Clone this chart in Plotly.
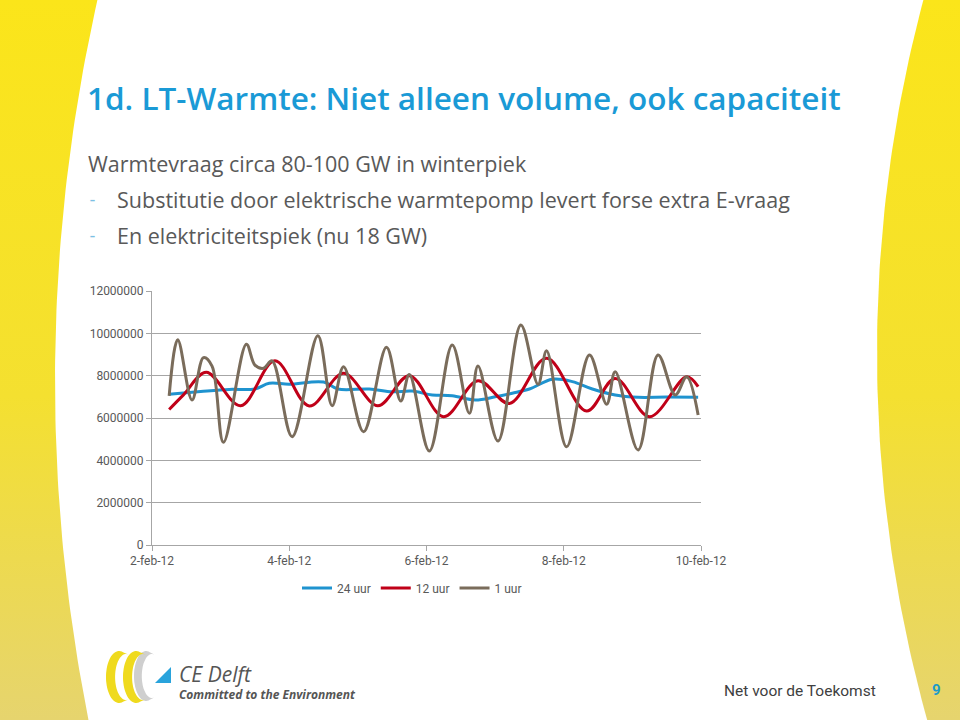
import numpy as np
import plotly.graph_objects as go

# ---------------- data ----------------
uur24_t = ["2012-02-02 06:00", "2012-02-02 17:00", "2012-02-03 03:00", "2012-02-03 12:00",
           "2012-02-03 17:00", "2012-02-04 00:00", "2012-02-04 12:00", "2012-02-04 17:00",
           "2012-02-05 04:00", "2012-02-05 12:00", "2012-02-05 19:00", "2012-02-06 02:00",
           "2012-02-06 09:00", "2012-02-06 17:00", "2012-02-07 00:00", "2012-02-07 06:00",
           "2012-02-07 12:00", "2012-02-07 20:00", "2012-02-08 03:00", "2012-02-08 10:00",
           "2012-02-08 18:00", "2012-02-09 02:00", "2012-02-09 12:00", "2012-02-09 23:00"]
uur24_v = [7120000, 7250000, 7350000, 7370000, 7640000, 7600000, 7700000, 7370000,
           7370000, 7240000, 7270000, 7090000, 7050000, 6850000, 7000000, 7170000,
           7370000, 7830000, 7720000, 7370000, 7090000, 6980000, 6990000, 6980000]

uur12_t = ["2012-02-02 06:00", "2012-02-02 11:00", "2012-02-02 19:00", "2012-02-03 07:00",
           "2012-02-03 19:00", "2012-02-04 07:00", "2012-02-04 19:00", "2012-02-05 07:00",
           "2012-02-05 18:00", "2012-02-06 06:00", "2012-02-06 18:00", "2012-02-07 05:00",
           "2012-02-07 18:00", "2012-02-08 08:00", "2012-02-08 18:00", "2012-02-09 06:00",
           "2012-02-09 19:00", "2012-02-09 23:00"]
uur12_v = [6400000, 7090000, 8160000, 6580000, 8700000, 6570000, 8110000, 6580000,
           8000000, 6060000, 7760000, 6690000, 8820000, 6330000, 7870000, 6060000,
           7950000, 7480000]

uur1_t = ["2012-02-02 06:00", "2012-02-02 09:00", "2012-02-02 14:00", "2012-02-02 18:00",
          "2012-02-02 21:00", "2012-02-03 01:00", "2012-02-03 09:00", "2012-02-03 12:00",
          "2012-02-03 15:00", "2012-02-03 18:00", "2012-02-04 01:00", "2012-02-04 10:00",
          "2012-02-04 15:00", "2012-02-04 19:00", "2012-02-05 02:00", "2012-02-05 10:00",
          "2012-02-05 15:00", "2012-02-05 18:00", "2012-02-06 01:00", "2012-02-06 09:00",
          "2012-02-06 15:00", "2012-02-06 18:00", "2012-02-07 01:00", "2012-02-07 09:00",
          "2012-02-07 15:00", "2012-02-07 18:00", "2012-02-08 01:00", "2012-02-08 09:00",
          "2012-02-08 15:00", "2012-02-08 18:00", "2012-02-09 02:00", "2012-02-09 09:00",
          "2012-02-09 15:00", "2012-02-09 19:00", "2012-02-09 23:00"]
uur1_v = [7050000, 9700000, 6850000, 8850000, 8450000, 4850000, 9480000, 8500000,
          8350000, 8700000, 5120000, 9890000, 6580000, 8420000, 5350000, 9340000,
          6800000, 8060000, 4440000, 9450000, 6220000, 8460000, 4910000, 10390000,
          7590000, 9180000, 4640000, 8980000, 6650000, 8190000, 4490000, 8980000,
          7090000, 7950000, 6140000]

x_tickvals = ["2012-02-02", "2012-02-04", "2012-02-06", "2012-02-08", "2012-02-10"]
x_ticktext = ["2-feb-12", "4-feb-12", "6-feb-12", "8-feb-12", "10-feb-12"]
y_tickvals = [0, 2000000, 4000000, 6000000, 8000000, 10000000, 12000000]

title_text = "1d. LT-Warmte: Niet alleen volume, ook capaciteit"
body_lines = ["Warmtevraag circa 80-100 GW in winterpiek",
              "Substitutie door elektrische warmtepomp levert forse extra E-vraag",
              "En elektriciteitspiek (nu 18 GW)"]

W, H = 960, 720
GRID = "#A6A6A6"
TXT = "#595959"
FONT = "Roboto"
BODY_FONT = "Open Sans"

fig = go.Figure()

# ---------------- decorative yellow side areas (pixel coordinates on x2/y2) ----------------
ys = np.linspace(0, H, 73)
xl = 1788 - np.sqrt(1733**2 - (ys - 381) ** 2)
xr = 2244 - np.sqrt(1367**2 - (ys - 353) ** 2)
left_x = [0] + list(xl) + [0]
left_y = [0] + list(ys) + [H]
right_x = [W] + list(xr) + [W]
right_y = [0] + list(ys) + [H]
grad = dict(type="vertical", start=0, stop=H,
            colorscale=[[0, "#FBE51A"], [0.55, "#F4E030"], [1, "#E6D46E"]])
for px, py in [(left_x, left_y), (right_x, right_y)]:
    fig.add_trace(go.Scatter(x=px, y=py, xaxis="x2", yaxis="y2", mode="lines",
                             fill="toself", fillgradient=grad,
                             line=dict(width=0), showlegend=False, hoverinfo="skip"))


def crescent(cx, cy, rx, ry, shift, n=40):
    t1 = np.linspace(np.pi * 0.40, np.pi * 1.60, n)
    ox = cx + rx * np.cos(t1)
    oy = cy - ry * np.sin(t1)
    t2 = t1[::-1]
    ix = cx + shift + (rx - shift * 0.3) * np.cos(t2)
    iy = cy - (ry - 3) * np.sin(t2)
    xs = np.concatenate([ox, ix])
    yv = np.concatenate([oy, iy])
    return "M " + " L ".join(f"{a:.1f} {b:.1f}" for a, b in zip(xs, yv)) + " Z"


# ---------------- series ----------------
fig.add_trace(go.Scatter(x=uur24_t, y=uur24_v, name="24 uur", mode="lines",
                         line=dict(color="#1F93CF", width=3, shape="spline", smoothing=1.0)))
fig.add_trace(go.Scatter(x=uur12_t, y=uur12_v, name="12 uur", mode="lines",
                         line=dict(color="#C00018", width=3, shape="spline", smoothing=1.0)))
fig.add_trace(go.Scatter(x=uur1_t, y=uur1_v, name="1 uur", mode="lines",
                         line=dict(color="#7A6C5B", width=3, shape="spline", smoothing=1.0)))

# ---------------- text annotations ----------------
ann = []
ann.append(dict(x=85, y=97, xref="x2", yref="y2", text=title_text, showarrow=False,
                xanchor="left", yanchor="middle",
                font=dict(family="Open Sans", size=31.5, color="#1A9AD6", weight=600)))
ann.append(dict(x=86, y=163, xref="x2", yref="y2", text=body_lines[0], showarrow=False,
                xanchor="left", yanchor="middle", font=dict(family=BODY_FONT, size=21.5, color=TXT)))
for i, yy in enumerate([199, 235]):
    ann.append(dict(x=88, y=yy, xref="x2", yref="y2", text="-", showarrow=False,
                    xanchor="left", yanchor="middle", font=dict(family=FONT, size=18, color="#7CC0E4")))
    ann.append(dict(x=115, y=yy, xref="x2", yref="y2", text=body_lines[i + 1], showarrow=False,
                    xanchor="left", yanchor="middle", font=dict(family=BODY_FONT, size=21.5, color=TXT)))
ann.append(dict(x=878, y=691, xref="x2", yref="y2", text="Net voor de Toekomst", showarrow=False,
                xanchor="right", yanchor="middle", font=dict(family=FONT, size=15.5, color="#404040")))
ann.append(dict(x=936, y=690, xref="x2", yref="y2", text="<b>9</b>", showarrow=False,
                xanchor="center", yanchor="middle", font=dict(family=FONT, size=15, color="#1E9BC8")))
ann.append(dict(x=177, y=674, xref="x2", yref="y2", text="<i>CE Delft</i>", showarrow=False,
                xanchor="left", yanchor="middle", font=dict(family="Open Sans", size=21, color="#555555")))
ann.append(dict(x=177, y=694, xref="x2", yref="y2", text="<b><i>Committed to the Environment</i></b>",
                showarrow=False, xanchor="left", yanchor="middle",
                font=dict(family="Open Sans", size=12, color="#555555")))

# ---------------- logo shapes ----------------
shapes = [
    dict(type="path", xref="x2", yref="y2", path=crescent(146, 676, 12, 25, 6),
         fillcolor="#CFCFCF", line=dict(width=0)),
    dict(type="path", xref="x2", yref="y2", path=crescent(119, 677, 13, 26, 7),
         fillcolor="#EFDA1E", line=dict(width=0)),
    dict(type="path", xref="x2", yref="y2", path=crescent(136, 677, 13, 26, 7),
         fillcolor="#EFDA1E", line=dict(width=0)),
    dict(type="path", xref="x2", yref="y2", path="M 155 683 L 171 667 L 171 683 Z",
         fillcolor="#29A3DC", line=dict(width=0)),
]

fig.update_layout(
    width=W, height=H,
    margin=dict(l=0, r=0, t=0, b=0, pad=0, autoexpand=False),
    paper_bgcolor="white", plot_bgcolor="rgba(0,0,0,0)",
    showlegend=True,
    legend=dict(orientation="h", x=412 / W, y=(H - 588) / H, xanchor="center", yanchor="middle",
                font=dict(family=FONT, size=12, color=TXT), bgcolor="rgba(0,0,0,0)",
                itemwidth=30, traceorder="normal"),
    xaxis=dict(domain=[152 / W, 701 / W], type="date",
               range=["2012-02-02", "2012-02-10"],
               tickvals=x_tickvals, ticktext=x_ticktext,
               showgrid=False, showline=True, linecolor=GRID, linewidth=1,
               ticks="outside", ticklen=5, tickcolor=GRID, automargin=False,
               tickfont=dict(family=FONT, size=12, color=TXT), zeroline=False),
    yaxis=dict(domain=[(H - 545) / H, (H - 291) / H], range=[0, 12000000],
               tickvals=y_tickvals, tickformat="d",
               showgrid=True, gridcolor=GRID, gridwidth=1,
               showline=True, linecolor=GRID, linewidth=1,
               ticks="outside", ticklen=5, tickcolor=GRID, automargin=False,
               tickfont=dict(family=FONT, size=12, color=TXT), zeroline=False),
    xaxis2=dict(domain=[0, 1], range=[0, W], visible=False, fixedrange=True, automargin=False),
    yaxis2=dict(domain=[0, 1], range=[H, 0], visible=False, fixedrange=True, automargin=False),
    annotations=ann,
    shapes=shapes,
)

fig.write_html("out.html", config={"displayModeBar": False},
               post_script="document.body.style.margin='0px';document.body.style.overflow='hidden';")
